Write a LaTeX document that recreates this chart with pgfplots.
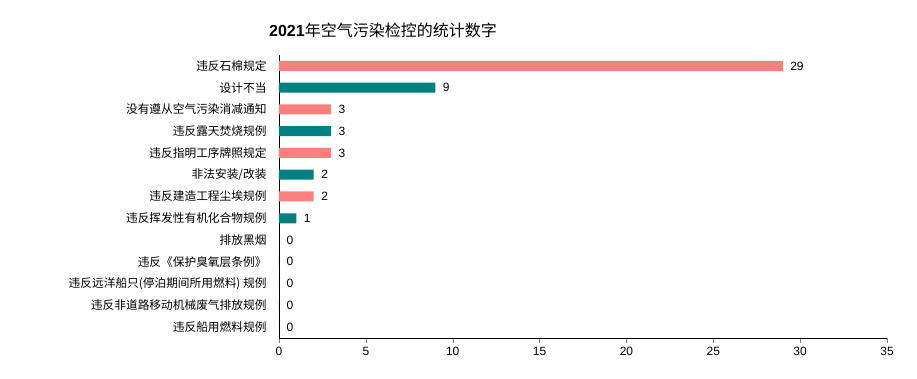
\documentclass[border=0pt]{standalone}
\usepackage{fontspec}
\setmainfont{Liberation Sans}
\newfontfamily\cjk{Noto Sans CJK SC}
\usepackage{pgfplots}
\pgfplotsset{compat=1.18}
\definecolor{barsalmon}{RGB}{250,128,128}
\definecolor{barteal}{RGB}{0,128,128}
\begin{document}
\begin{tikzpicture}
\begin{axis}[
  scale only axis, width=608bp, height=283bp,
  xbar, bar width=10bp, bar shift=0pt,
  xmin=0, xmax=35, xtick={0,5,...,35},
  ymin=-0.5, ymax=12.5, ytick={0,...,12},
  yticklabels={{\cjk 违反船用燃料规例},{\cjk 违反非道路移动机械废气排放规例},{\cjk 违反远洋船只(停泊期间所用燃料) 规例},{\cjk 违反《保护臭氧层条例》},{\cjk 排放黑烟},{\cjk 违反挥发性有机化合物规例},{\cjk 违反建造工程尘埃规例},{\cjk 非法安装/改装},{\cjk 违反指明工序牌照规定},{\cjk 违反露天焚烧规例},{\cjk 没有遵从空气污染消减通知},{\cjk 设计不当},{\cjk 违反石棉规定}},
  axis x line*=bottom, axis y line*=left,
  tick align=outside, major tick length=5bp,
  y tick style={draw=none},
  yticklabel style={xshift=-4bp, font=\fontsize{11.7bp}{13bp}\selectfont},
  xticklabel style={yshift=-1bp, font=\fontsize{12bp}{14bp}\selectfont},
  /pgf/number format/assume math mode=true,
  axis line style={line width=0.8bp},
  nodes near coords,
  nodes near coords style={font=\fontsize{12bp}{14bp}\selectfont, xshift=4bp, text=black},
  clip=false,
]
\coordinate (O) at (rel axis cs:0,0);
\addplot[fill=barsalmon, draw=none] coordinates {(29,12) (3,10) (3,8) (2,6) (0,4) (0,2) (0,0)};
\addplot[fill=barteal, draw=none] coordinates {(9,11) (3,9) (2,7) (1,5) (0,3) (0,1)};
\end{axis}
\path (O) ++(104bp,308bp) node[font=\fontsize{16bp}{18bp}\selectfont] {\textbf{2021}{\cjk 年空气污染检控的统计数字}};
\path (O) ++(-279bp,-41bp) rectangle ++(917bp,379bp);
\end{tikzpicture}
\end{document}
